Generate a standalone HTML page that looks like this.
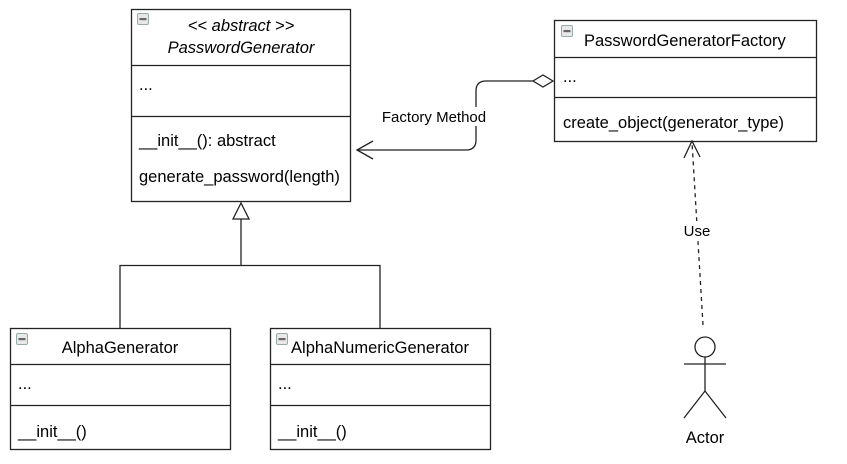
<!DOCTYPE html>
<html><head><meta charset="utf-8"><style>
html,body{margin:0;padding:0;background:#fff;width:847px;height:464px;overflow:hidden}
svg text{font-family:"Liberation Sans",Arial,sans-serif;font-size:16.5px;fill:#000}
svg text.lb{font-size:15px}
</style></head><body>
<svg width="847" height="464" viewBox="0 0 847 464" xmlns="http://www.w3.org/2000/svg">
<defs>
<g id="ic"><rect x="0.5" y="0.5" width="11" height="11" rx="1.5" fill="#e8e8e8" stroke="#9aa" stroke-width="1"/><rect x="2.5" y="5" width="7" height="2.2" fill="#666"/></g>
</defs>
<g fill="#fff" stroke="#222" stroke-width="1.3">
<rect x="131.5" y="9.5" width="219" height="192"/>
<line x1="131" y1="65.5" x2="351" y2="65.5"/>
<line x1="131" y1="116.5" x2="351" y2="116.5"/>
<rect x="554.5" y="20.5" width="262" height="121"/>
<line x1="554" y1="57.5" x2="817" y2="57.5"/>
<line x1="554" y1="97.5" x2="817" y2="97.5"/>
<rect x="10.5" y="328.5" width="220" height="121"/>
<line x1="10" y1="364.5" x2="231" y2="364.5"/>
<line x1="10" y1="405.5" x2="231" y2="405.5"/>
<rect x="270.5" y="328.5" width="220" height="121"/>
<line x1="270" y1="364.5" x2="491" y2="364.5"/>
<line x1="270" y1="405.5" x2="491" y2="405.5"/>
</g>
<use href="#ic" x="137" y="13"/>
<use href="#ic" x="561" y="25"/>
<use href="#ic" x="16" y="333"/>
<use href="#ic" x="276" y="333"/>
<text x="241" y="31" text-anchor="middle" font-style="italic">&lt;&lt; abstract &gt;&gt;</text>
<text x="241" y="53" text-anchor="middle" font-style="italic">PasswordGenerator</text>
<text x="139" y="90">...</text>
<text x="139" y="146">__init__(): abstract</text>
<text x="139" y="182">generate_password(length)</text>
<text x="584" y="46">PasswordGeneratorFactory</text>
<text x="563" y="82">...</text>
<text x="563" y="128">create_object(generator_type)</text>
<text x="120" y="353" text-anchor="middle">AlphaGenerator</text>
<text x="18" y="389">...</text>
<text x="18" y="437">__init__()</text>
<text x="380" y="353" text-anchor="middle">AlphaNumericGenerator</text>
<text x="278" y="389">...</text>
<text x="278" y="437">__init__()</text>
<g fill="none" stroke="#222" stroke-width="1.3">
<polyline points="120,328 120,265.5 380,265.5 380,328"/>
<line x1="241" y1="265" x2="241" y2="219"/>
<polygon points="241,203 233,219 249,219" fill="#fff"/>
<path d="M533,81 L486,81 Q476,81 476,91 L476,140 Q476,150 466,150 L357,150"/>
<polyline points="373,141 357,150 373,159"/>
<polygon points="553,81 543,75 533,81 543,87" fill="#fff"/>
<line x1="703" y1="325" x2="692" y2="142" stroke-dasharray="4,4"/>
<polyline points="684,158 692,141 700,157"/>
<circle cx="705" cy="347" r="10" fill="#fff"/>
<line x1="705" y1="357" x2="705" y2="391"/>
<line x1="684" y1="364" x2="726" y2="364"/>
<polyline points="684,418 705,391 726,418"/>
</g>
<rect x="380" y="107" width="108" height="19" fill="#fff"/>
<text class="lb" x="434" y="122" text-anchor="middle">Factory Method</text>
<rect x="682" y="221" width="30" height="19" fill="#fff"/>
<text class="lb" x="697" y="236" text-anchor="middle">Use</text>
<text x="705" y="443" text-anchor="middle">Actor</text>
</svg>
</body></html>
